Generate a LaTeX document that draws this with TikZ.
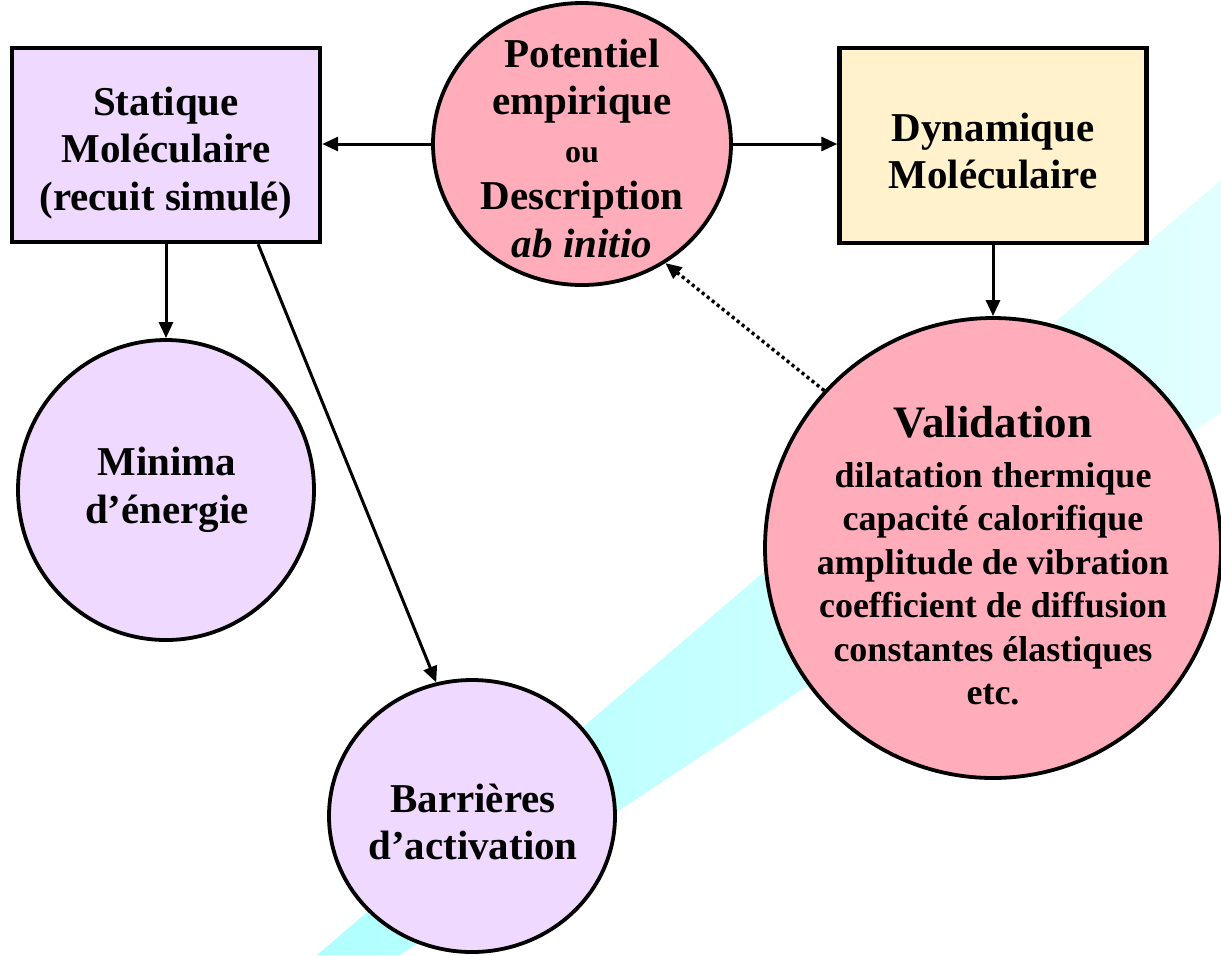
\documentclass[tikz,border=0pt]{standalone}
\usepackage{fontspec}
\setmainfont{Liberation Serif}
\usetikzlibrary{shapes.geometric,arrows.meta,calc}
\definecolor{lav}{HTML}{EFD9FF}
\definecolor{pinkc}{HTML}{FFADBA}
\definecolor{yel}{HTML}{FFF2CC}
\definecolor{cyanA}{HTML}{B0FFFF}
\definecolor{cyanB}{HTML}{E2FFFF}
\begin{document}
\begin{tikzpicture}[x=0.5pt,y=-0.5pt,
  boxnode/.style={draw, line width=2.2pt, rectangle, inner sep=0pt},
  blob/.style={draw, line width=1.9pt, ellipse, inner sep=0pt},
  txt/.style={font=\bfseries\fontsize{20.5}{23.75}\selectfont, align=center, inner sep=0pt},
  conn/.style={line width=1.5pt, -{Triangle[length=8pt,width=7pt]}},
  dotconn/.style={line width=1.7pt, dash pattern=on 1.6pt off 1.6pt, -{Triangle[length=8pt,width=7pt]}}
]
\useasboundingbox (0,0) rectangle (1221,955);
\shade[left color=cyanA, right color=cyanB] (317,955) -- (1221,180) -- (1221,413) -- (400,955) -- cycle;

\node[boxnode, fill=lav, minimum width=154pt, minimum height=97pt] (stat) at (166,145) {};
\node[txt] (statT) at (166,153) {Statique\\Moléculaire\\(recuit simulé)};

\node[blob, fill=pinkc, minimum width=149pt, minimum height=141pt] (pot) at (582,144) {};
\node[txt] (potT) at (582,148) {Potentiel\\empirique\\{\fontsize{16}{19}\selectfont ou}\\Description\\\textit{ab initio}};

\node[boxnode, fill=yel, minimum width=153.5pt, minimum height=97.5pt] (dyn) at (993,145.5) {};
\node[txt] (dynT) at (993,151) {Dynamique\\Moléculaire};

\node[blob, fill=lav, minimum width=148pt, minimum height=150pt] (mini) at (166,490) {};
\node[txt] (miniT) at (167,490) {Minima\\d’énergie};

\node[blob, fill=lav, minimum width=143pt, minimum height=136pt] (bar) at (472,816) {};
\node[txt] (barT) at (473,822) {Barrières\\d’activation};

\node[blob, fill=pinkc, minimum width=228pt, minimum height=230pt] (val) at (993,548) {};
\node[txt, font=\bfseries\fontsize{18}{21.75}\selectfont] (valT) at (993,556) {{\fontsize{22.5}{26}\selectfont Validation}\\[3pt]dilatation thermique\\capacité calorifique\\amplitude de vibration\\coefficient de diffusion\\constantes élastiques\\etc.};

\draw[conn] (pot.west) -- (pot.west -| stat.east);
\draw[conn] (pot.east) -- (pot.east -| dyn.west);
\draw[conn] (stat.south) -- (mini.north);
\draw[conn] ($(stat.south west)!0.795!(stat.south east)$) -- (bar.105);
\draw[conn] (dyn.south) -- (val.north);
\draw[dotconn] (val.137) -- (pot.-55);
\end{tikzpicture}
\end{document}
